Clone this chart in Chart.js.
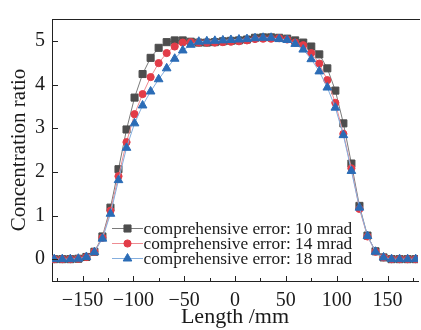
<!DOCTYPE html>
<html>
<head>
<meta charset="utf-8">
<script src="https://cdn.jsdelivr.net/npm/chart.js@4.4.1/dist/chart.umd.min.js"></script>
<style>
  html, body { margin: 0; padding: 0; background: #fff; overflow: hidden; }
  #wrap { width: 424px; height: 330px; position: relative; }
</style>
</head>
<body>
<div id="wrap"><canvas id="c" width="424" height="330"></canvas></div>
<script>
// ---- data ----
const lengthMm = [-177.8, -169.9, -162, -154.1, -146.2, -138.3, -130.4, -122.5, -114.6, -106.7,
  -98.8, -90.9, -83, -75.1, -67.2, -59.3, -51.4, -43.5, -35.6, -27.7, -19.8, -11.9, -4,
  3.9, 11.8, 19.7, 27.6, 35.5, 43.4, 51.3, 59.2, 67.1, 75, 82.9, 90.8, 98.7, 106.6, 114.5,
  122.4, 130.3, 138.2, 146.1, 154, 161.9, 169.8, 177.7];

const err10 = [0, 0, 0, 0.01, 0.05, 0.17, 0.52, 1.18, 2.06, 2.97,
  3.70, 4.24, 4.61, 4.84, 4.97, 5.01, 5.01, 4.98, 4.96, 4.96, 4.97, 4.99, 5.00,
  5.01, 5.03, 5.07, 5.08, 5.08, 5.07, 5.05, 5.01, 4.96, 4.87, 4.69, 4.37, 3.86, 3.11, 2.19,
  1.22, 0.54, 0.18, 0.04, 0, 0, 0, 0];

const err14 = [0, 0, 0, 0.01, 0.05, 0.17, 0.49, 1.11, 1.90, 2.68,
  3.32, 3.78, 4.17, 4.49, 4.72, 4.87, 4.96, 4.97, 4.96, 4.96, 4.96, 4.97, 4.98,
  4.99, 5.01, 5.04, 5.05, 5.05, 5.06, 5.03, 4.96, 4.90, 4.72, 4.48, 4.10, 3.58, 2.87, 2.08,
  1.15, 0.52, 0.17, 0.04, 0, 0, 0, 0];

const err18 = [0, 0, 0, 0.01, 0.05, 0.16, 0.47, 1.04, 1.81, 2.55,
  3.11, 3.52, 3.84, 4.12, 4.37, 4.59, 4.78, 4.91, 4.98, 4.99, 5.00, 5.01, 5.02,
  5.03, 5.04, 5.06, 5.07, 5.07, 5.04, 5.02, 4.93, 4.80, 4.58, 4.30, 3.93, 3.47, 2.84, 2.02,
  1.18, 0.53, 0.17, 0.04, 0, 0, 0, 0];

const seriesLabels = ['comprehensive error: 10 mrad', 'comprehensive error: 14 mrad', 'comprehensive error: 18 mrad'];
const xTickValues = [-150, -100, -50, 0, 50, 100, 150];
const xMinorTickValues = [-175, -125, -75, -25, 25, 75, 125, 175];
const yTickValues = [0, 1, 2, 3, 4, 5];

const FONT = '"Liberation Serif", "DejaVu Serif", serif';

function pts(ys) { return lengthMm.map((x, i) => ({ x: x, y: ys[i] })); }

const styles = [
  { fill: '#4d4d4d', line: '#7a7a7a', shape: 'rect', r: 5, order: 2 },
  { fill: '#e23c48', line: '#ee8c92', shape: 'circle', r: 3.6, order: 1 },
  { fill: '#2b6cb6', line: '#84aede', shape: 'triangle', r: 5, order: 0 }
];
const seriesData = [err10, err14, err18];

const datasets = seriesData.map((d, k) => ({
  label: seriesLabels[k],
  data: pts(d),
  borderColor: styles[k].line,
  borderWidth: 1,
  backgroundColor: styles[k].fill,
  pointBackgroundColor: styles[k].fill,
  pointBorderColor: styles[k].fill,
  pointBorderWidth: 1,
  pointStyle: styles[k].shape,
  pointRadius: styles[k].r,
  tension: 0,
  order: styles[k].order
}));

const framePlugin = {
  id: 'frame',
  afterDraw(chart) {
    const { ctx, chartArea: a } = chart;
    const xs = chart.scales.x, ys = chart.scales.y;
    ctx.save();
    ctx.strokeStyle = '#222';
    ctx.lineWidth = 1;
    ctx.beginPath();
    ctx.moveTo(a.left, a.top + 0.5);
    ctx.lineTo(a.right + 2, a.top + 0.5);
    xTickValues.forEach(v => {
      const px = Math.round(xs.getPixelForValue(v)) + 0.5;
      ctx.moveTo(px, a.bottom); ctx.lineTo(px, a.bottom - 5);
    });
    xMinorTickValues.forEach(v => {
      const px = Math.round(xs.getPixelForValue(v)) + 0.5;
      ctx.moveTo(px, a.bottom); ctx.lineTo(px, a.bottom - 3);
    });
    yTickValues.forEach(v => {
      const py = Math.round(ys.getPixelForValue(v)) + 0.5;
      ctx.moveTo(a.left, py); ctx.lineTo(a.left + 6, py);
    });
    ctx.stroke();

    // legend
    const legX0 = 112, legX1 = 143, legMarkX = 127.5;
    const rowY = [228.5, 243.5, 258.5];
    ctx.font = '17.3px ' + FONT;
    ctx.textBaseline = 'middle';
    ctx.textAlign = 'left';
    chart.data.datasets.forEach((ds, k) => {
      const y = rowY[k];
      ctx.strokeStyle = ds.borderColor;
      ctx.lineWidth = 1;
      ctx.beginPath();
      ctx.moveTo(legX0, y); ctx.lineTo(legX1, y);
      ctx.stroke();
      ctx.fillStyle = ds.pointBackgroundColor;
      ctx.strokeStyle = ds.pointBorderColor;
      Chart.helpers.drawPoint(ctx, { pointStyle: ds.pointStyle, radius: ds.pointRadius, borderWidth: 1, rotation: 0 }, legMarkX, y);
      ctx.fillStyle = '#1a1a1a';
      ctx.fillText(ds.label, legX1 + 0.5, y + 1);
    });
    ctx.restore();
  }
};

new Chart(document.getElementById('c'), {
  type: 'line',
  data: { datasets: datasets },
  options: {
    responsive: false,
    animation: false,
    devicePixelRatio: 1,
    layout: { padding: { top: 7, right: 1, left: 0, bottom: 0 } },
    plugins: { legend: { display: false }, tooltip: { enabled: false } },
    scales: {
      x: {
        type: 'linear',
        min: -180, max: 180,
        grid: { display: false, drawTicks: false },
        border: { display: true, color: '#222', width: 1 },
        afterBuildTicks: s => { s.ticks = xTickValues.map(v => ({ value: v })); },
        afterFit: s => { s.height = 49; },
        ticks: {
          padding: 8,
          color: '#1a1a1a',
          font: { family: FONT, size: 20 },
          callback: v => (v < 0 ? '\u2212' + Math.abs(v) : String(v)),
          maxRotation: 0, autoSkip: false
        },
        title: {
          display: true, text: 'Length /mm', color: '#1a1a1a',
          font: { family: FONT, size: 22, lineHeight: 1.2 },
          padding: { top: 0, bottom: 0 }
        }
      },
      y: {
        type: 'linear',
        min: -0.5, max: 5.5,
        grid: { display: false, drawTicks: false },
        border: { display: true, color: '#222', width: 1 },
        afterBuildTicks: s => { s.ticks = yTickValues.map(v => ({ value: v })); },
        afterFit: s => { s.width = 52; },
        ticks: {
          padding: 7,
          color: '#1a1a1a',
          font: { family: FONT, size: 20 },
          callback: v => String(v)
        },
        title: {
          display: true, text: 'Concentration ratio', color: '#1a1a1a',
          font: { family: FONT, size: 21, lineHeight: 1.2 },
          padding: { top: 7, bottom: 0 }
        }
      }
    }
  },
  plugins: [framePlugin]
});
</script>
</body>
</html>
